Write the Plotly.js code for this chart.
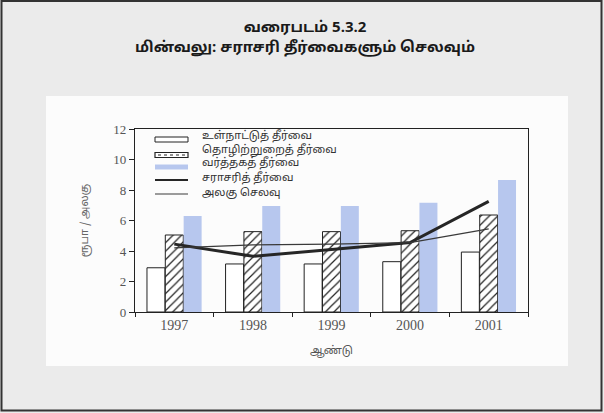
<!DOCTYPE html>
<html>
<head>
<meta charset="utf-8">
<script src="https://cdn.plot.ly/plotly-3.0.1.min.js"></script>
<style>
  html, body { margin: 0; padding: 0; background: #ebebeb; }
  #chart { width: 604px; height: 413px; }
</style>
</head>
<body>
<div id="chart"></div>
<script>
// ---- Data ----
const years = ['1997', '1998', '1999', '2000', '2001'];
const domesticTariff = [2.9, 3.15, 3.15, 3.3, 3.93];
const industrialTariff = [5.05, 5.27, 5.27, 5.33, 6.36];
const commercialTariff = [6.3, 6.95, 6.95, 7.17, 8.66];
const averageTariff = [4.45, 3.65, 4.1, 4.55, 7.25];
const unitCost = [4.2, 4.4, 4.45, 4.55, 5.45];
const seriesNames = ['உள்நாட்டுத் தீர்வை', 'தொழிற்றுறைத் தீர்வை', 'வர்த்தகத் தீர்வை', 'சராசரித் தீர்வை', 'அலகு செலவு'];
const yTicks = [0, 2, 4, 6, 8, 10, 12];
const titleLines = ['வரைபடம் 5.3.2', 'மின்வலு: சராசரி தீர்வைகளும் செலவும்'];
const xTitle = 'ஆண்டு';
const yTitle = 'ரூபா / அலகு';

// ---- Layout geometry (pixels) ----
const W = 604, H = 413;
const L = 135, R = 528, T = 129, B = 312;
const px = v => (v - L) / (R - L);
const py = v => (B - v) / (B - T);

const tamilFont = '"Noto Sans Tamil", "Lohit Tamil", "Noto Sans", sans-serif';
const serifFont = '"Liberation Serif", "DejaVu Serif", serif';
const blue = '#b7c7ee';
const ink = '#222222';

const traces = [
  { type: 'bar', name: seriesNames[0], x: years, y: domesticTariff,
    marker: { color: '#ffffff', line: { color: ink, width: 1 } } },
  { type: 'bar', name: seriesNames[1], x: years, y: industrialTariff,
    marker: { color: '#ffffff', line: { color: ink, width: 1 },
      pattern: { shape: '/', fgcolor: ink, bgcolor: '#ffffff', size: 6, solidity: 0.2 } } },
  { type: 'bar', name: seriesNames[2], x: years, y: commercialTariff,
    marker: { color: blue, line: { width: 0 } } },
  { type: 'scatter', mode: 'lines', name: seriesNames[3], x: years, y: averageTariff,
    line: { color: '#262626', width: 3 } },
  { type: 'scatter', mode: 'lines', name: seriesNames[4], x: years, y: unitCost,
    line: { color: '#3a3a3a', width: 1.3 } }
];

// ---- Custom compact legend (swatches + labels) ----
const legRowsSwatch = [139.5, 155, 167, 180, 194];
const legRowsText = [136, 150, 163, 178, 193];
const swX0 = 155, swX1 = 188, txtX = 200;
const shapes = [
  // inner light panel
  { type: 'rect', xref: 'paper', yref: 'paper', layer: 'below',
    x0: px(46), x1: px(568), y0: py(366), y1: py(96),
    fillcolor: '#fcfcfc', line: { width: 0 } },
  // outer frame
  { type: 'rect', xref: 'paper', yref: 'paper', layer: 'below',
    x0: px(1.5), x1: px(601.5), y0: py(410.5), y1: py(1),
    fillcolor: 'rgba(0,0,0,0)', line: { color: '#333333', width: 2 } },
  // legend swatches
  { type: 'rect', xref: 'paper', yref: 'paper', x0: px(swX0), x1: px(swX1),
    y0: py(legRowsSwatch[0] + 2.5), y1: py(legRowsSwatch[0] - 2.5),
    fillcolor: '#ffffff', line: { color: ink, width: 1 } },
  { type: 'rect', xref: 'paper', yref: 'paper', x0: px(swX0), x1: px(swX1),
    y0: py(legRowsSwatch[1] + 2.5), y1: py(legRowsSwatch[1] - 2.5),
    fillcolor: '#ffffff', line: { color: ink, width: 1.2 } },
  { type: 'line', xref: 'paper', yref: 'paper', x0: px(swX0 + 3), x1: px(swX1 - 3),
    y0: py(legRowsSwatch[1]), y1: py(legRowsSwatch[1]),
    line: { color: ink, width: 1, dash: 'dot' } },
  { type: 'rect', xref: 'paper', yref: 'paper', x0: px(swX0), x1: px(swX1),
    y0: py(legRowsSwatch[2] + 2.5), y1: py(legRowsSwatch[2] - 2.5),
    fillcolor: blue, line: { width: 0 } },
  { type: 'line', xref: 'paper', yref: 'paper', x0: px(swX0), x1: px(swX1),
    y0: py(legRowsSwatch[3]), y1: py(legRowsSwatch[3]),
    line: { color: '#262626', width: 2.2 } },
  { type: 'line', xref: 'paper', yref: 'paper', x0: px(swX0), x1: px(swX1),
    y0: py(legRowsSwatch[4]), y1: py(legRowsSwatch[4]),
    line: { color: '#3a3a3a', width: 1.1 } }
];

const annotations = seriesNames.map((name, i) => ({
  xref: 'paper', yref: 'paper', x: px(txtX), y: py(legRowsText[i]),
  xanchor: 'left', yanchor: 'middle', showarrow: false, text: name,
  font: { family: tamilFont, size: 11, color: '#333333' }
}));

const layout = {
  width: W, height: H,
  margin: { l: L, r: W - R, t: T, b: H - B, pad: 0 },
  paper_bgcolor: '#ebebeb',
  plot_bgcolor: '#ffffff',
  showlegend: false,
  barmode: 'group',
  bargap: 0.3,
  bargroupgap: 0.02,
  title: {
    text: titleLines.join('<br>'),
    x: 0.505, xanchor: 'center',
    y: 1 - 32 / H, yanchor: 'middle',
    font: { family: tamilFont, size: 15, color: '#1a1a1a', weight: 'bold' }
  },
  xaxis: {
    type: 'category',
    showline: true, linecolor: ink, linewidth: 1.2, mirror: true,
    ticks: 'outside', tickson: 'boundaries', ticklen: 4, tickcolor: ink,
    showgrid: false, zeroline: false,
    tickfont: { family: serifFont, size: 14, color: '#555555' },
    title: { text: xTitle, standoff: 14, font: { family: tamilFont, size: 11, color: '#555555' } }
  },
  yaxis: {
    range: [0, 12],
    tickvals: yTicks,
    showline: true, linecolor: ink, linewidth: 1.2, mirror: true,
    ticks: 'outside', ticklen: 5, tickcolor: ink,
    showgrid: false, zeroline: false,
    tickfont: { family: serifFont, size: 13, color: '#555555' },
    title: { text: yTitle, standoff: 22, font: { family: tamilFont, size: 11, color: '#666666' } }
  },
  shapes: shapes,
  annotations: annotations
};

Plotly.newPlot('chart', traces, layout, { displayModeBar: false, staticPlot: true });
</script>
</body>
</html>
